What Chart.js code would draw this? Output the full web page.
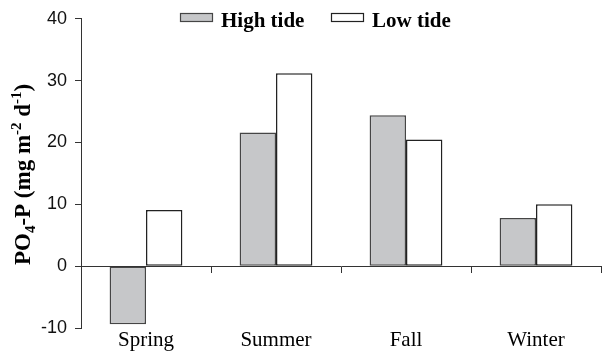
<!DOCTYPE html>
<html>
<head>
<meta charset="utf-8">
<script src="https://cdn.jsdelivr.net/npm/chart.js@4/dist/chart.umd.min.js"></script>
<style>
  html, body { margin: 0; padding: 0; background: #ffffff; }
  #wrap { width: 602px; height: 354px; }
</style>
</head>
<body>
<div id="wrap"><canvas id="c" width="602" height="354"></canvas></div>
<script>
// Seasonal PO4-P flux (mg m-2 d-1) at high and low tide
const seasons = ['Spring', 'Summer', 'Fall', 'Winter'];
const highTide = [-9.4, 21.6, 24.4, 7.8];
const lowTide = [9.1, 31.2, 20.5, 10.0];
const seriesNames = ['High tide', 'Low tide'];
const yTicks = [40, 30, 20, 10, 0, -10];

const AXIS = '#333333';
const SERIF = '"Liberation Serif", "Times New Roman", Times, serif';
const SANS = '"Liberation Sans", Arial, Helvetica, sans-serif';

// Legend drawn inside the plot, near the top
const legendPlugin = {
  id: 'topLegend',
  afterDraw(chart) {
    const ctx = chart.ctx;
    const items = [{ x: 180, label: 0 }, { x: 331, label: 1 }];
    ctx.save();
    ctx.font = 'bold 21px ' + SERIF;
    ctx.textBaseline = 'alphabetic';
    items.forEach(it => {
      const ds = chart.data.datasets[it.label];
      ctx.fillStyle = ds.backgroundColor;
      ctx.fillRect(it.x, 13, 32, 8);
      ctx.strokeStyle = ds.borderColor;
      ctx.lineWidth = 1.2;
      ctx.strokeRect(it.x + 0.5, 13.5, 32, 8);
      ctx.fillStyle = '#000';
      ctx.fillText(ds.label, it.x + 41, 27);
    });
    ctx.restore();
  }
};

// Rotated y-axis title with subscript / superscripts
const yTitlePlugin = {
  id: 'yTitle',
  afterDraw(chart) {
    const ctx = chart.ctx;
    const area = chart.chartArea;
    const big = 'bold 23px ' + SERIF;
    const small = 'bold 15px ' + SERIF;
    const parts = [
      { t: 'PO', f: big, dy: 0 },
      { t: '4', f: small, dy: 5 },
      { t: '-P (mg m', f: big, dy: 0 },
      { t: '-2', f: small, dy: -9 },
      { t: ' d', f: big, dy: 0 },
      { t: '-1', f: small, dy: -9 },
      { t: ')', f: big, dy: 0 }
    ];
    ctx.save();
    let total = 0;
    parts.forEach(p => { ctx.font = p.f; p.w = ctx.measureText(p.t).width; total += p.w; });
    const cy = (area.top + area.bottom) / 2 + 1;
    ctx.translate(30, cy);
    ctx.rotate(-Math.PI / 2);
    ctx.fillStyle = '#000';
    ctx.textBaseline = 'alphabetic';
    let x = -total / 2;
    parts.forEach(p => {
      ctx.font = p.f;
      ctx.fillText(p.t, x, p.dy);
      x += p.w;
    });
    ctx.restore();
  }
};

new Chart(document.getElementById('c'), {
  type: 'bar',
  data: {
    labels: seasons,
    datasets: [
      {
        label: seriesNames[0],
        data: highTide,
        backgroundColor: '#c6c7c9',
        borderColor: '#454545',
        borderWidth: 1.5,
        borderSkipped: false,
        categoryPercentage: 0.56,
        barPercentage: 1,
        xAxisID: 'x'
      },
      {
        label: seriesNames[1],
        data: lowTide,
        backgroundColor: '#ffffff',
        borderColor: '#222222',
        borderWidth: 1.5,
        borderSkipped: false,
        categoryPercentage: 0.56,
        barPercentage: 1,
        xAxisID: 'x'
      }
    ]
  },
  options: {
    responsive: false,
    devicePixelRatio: 1,
    animation: false,
    layout: { padding: { top: 15, right: 1, bottom: 0, left: 0 } },
    plugins: {
      legend: { display: false },
      tooltip: { enabled: false }
    },
    scales: {
      // zero line with category separator ticks
      x: {
        type: 'category',
        position: { y: 0 },
        offset: true,
        grid: {
          offset: true,
          drawOnChartArea: false,
          drawTicks: true,
          tickLength: 6,
          lineWidth: 1,
          color: (c) => (c.index === 0 || c.index === seasons.length) ? 'rgba(0,0,0,0)' : AXIS
        },
        border: { display: true, color: AXIS, width: 1 },
        ticks: { display: false }
      },
      // season labels along the bottom
      x2: {
        type: 'category',
        labels: seasons,
        position: 'bottom',
        offset: true,
        grid: { display: false, drawTicks: false },
        border: { display: false },
        ticks: {
          color: '#000',
          font: { family: SERIF, size: 21 },
          padding: 0,
          maxRotation: 0
        },
        afterFit(scale) { scale.height = 26; }
      },
      y: {
        min: -10,
        max: 40,
        afterBuildTicks(scale) { scale.ticks = yTicks.map(v => ({ value: v })); },
        grid: {
          drawOnChartArea: false,
          drawTicks: true,
          tickLength: 6,
          color: AXIS,
          lineWidth: 1
        },
        border: { display: true, color: AXIS, width: 1 },
        ticks: {
          color: '#111',
          font: { family: SANS, size: 18 },
          padding: 8
        },
        afterFit(scale) { scale.width = 81; }
      }
    }
  },
  plugins: [legendPlugin, yTitlePlugin]
});
</script>
</body>
</html>
